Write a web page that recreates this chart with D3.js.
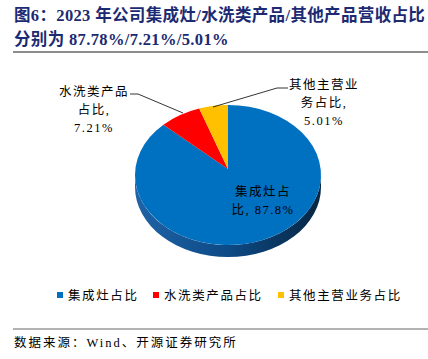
<!DOCTYPE html>
<html><head><meta charset="utf-8">
<script src="https://cdn.jsdelivr.net/npm/d3@7/dist/d3.min.js"></script>
<style>body{margin:0;background:#fff;}svg{display:block;}</style>
</head><body>
<script>
const categories = ["集成灶占比", "水洗类产品占比", "其他主营业务占比"];
const values = [87.78, 7.21, 5.01];
const sliceLabels = [["集成灶占", "比, 87.8%"], ["水洗类产品", "占比,", "7.21%"], ["其他主营业", "务占比,", "5.01%"]];
const colors = ["#0070C0", "#FF0000", "#FFC000"];
const titleLines = ["图6：2023 年公司集成灶/水洗类产品/其他产品营收占比", "分别为 87.78%/7.21%/5.01%"];
const sourceText = "数据来源：Wind、开源证券研究所";

const W = 428, H = 359;
const svg = d3.select("body").append("svg").attr("width", W).attr("height", H);
const serif = "'Liberation Serif','Times New Roman','Noto Sans CJK SC',serif";

// title
svg.append("g").selectAll("text").data(titleLines).join("text")
  .attr("x", 14).attr("y", (d, i) => 21 + i * 24)
  .attr("font-family", serif).attr("font-weight", "bold").attr("font-size", 16.5)
  .attr("letter-spacing", 0.35)
  .attr("fill", "#1b2a72").text(d => d);
svg.append("line").attr("x1", 13).attr("x2", 428).attr("y1", 52).attr("y2", 52)
  .attr("stroke", "#8c8c8c").attr("stroke-width", 2);

// pie geometry
const cx = 228, cy = 175, rx = 93, ry = 70, depth = 12, apexY = 169;
const pt = (a, dy = 0) => [cx + rx * Math.sin(a), cy - ry * Math.cos(a) + dy];
const pie = d3.pie().sort(null).value(d => d)(values);

const defs = svg.append("defs");
const grad = defs.append("linearGradient").attr("id", "side").attr("x1", "0").attr("x2", "1").attr("y1", "0").attr("y2", "0");
grad.append("stop").attr("offset", "0").attr("stop-color", "#1f63a6");
grad.append("stop").attr("offset", "0.5").attr("stop-color", "#0d4a86");
grad.append("stop").attr("offset", "1").attr("stop-color", "#072642");

// side (front half, belongs to first slice)
const a0 = Math.PI / 2, a1 = Math.PI * 3 / 2;
const p0 = pt(a0), p1 = pt(a1), q0 = pt(a0, depth), q1 = pt(a1, depth);
svg.append("path")
  .attr("d", `M${p0}A${rx},${ry} 0 0 1 ${p1}L${q1}A${rx},${ry} 0 0 0 ${q0}Z`)
  .attr("fill", "url(#side)");

// top faces
svg.append("g").selectAll("path").data(pie).join("path")
  .attr("d", d => {
    const s = pt(d.startAngle), e = pt(d.endAngle);
    const large = (d.endAngle - d.startAngle) > Math.PI ? 1 : 0;
    return `M${cx},${apexY}L${s}A${rx},${ry} 0 ${large} 1 ${e}Z`;
  })
  .attr("fill", (d, i) => colors[i]);

// leader lines
const leaders = [null, [[130, 94], [138, 94], [183, 113]], [[288, 88], [277, 88], [213, 107]]];
svg.append("g").selectAll("path").data(leaders.filter(d => d)).join("path")
  .attr("d", d => d3.line()(d)).attr("fill", "none").attr("stroke", "#000").attr("stroke-width", 0.8);

// slice labels
const labelPos = [[263, 196], [94, 96], [324, 89]];
sliceLabels.forEach((lines, i) => {
  svg.append("g").selectAll("text").data(lines).join("text")
    .attr("x", labelPos[i][0]).attr("y", (d, j) => labelPos[i][1] + j * 18)
    .attr("text-anchor", "middle").attr("font-family", serif).attr("font-size", 12.5)
    .attr("letter-spacing", 1.5)
    .attr("fill", "#000").text(d => d);
});

// legend
const legendX = [57, 153, 278];
const lg = svg.append("g").selectAll("g").data(categories).join("g")
  .attr("transform", (d, i) => `translate(${legendX[i]},292)`);
lg.append("rect").attr("width", 6).attr("height", 6).attr("fill", (d, i) => colors[i]);
lg.append("text").attr("x", 11).attr("y", 8).attr("font-family", serif).attr("font-size", 12.5)
  .attr("letter-spacing", 1.6)
  .attr("fill", "#000").text(d => d);

// source
svg.append("line").attr("x1", 13).attr("x2", 428).attr("y1", 329).attr("y2", 329)
  .attr("stroke", "#666").attr("stroke-width", 1);
svg.append("text").attr("x", 14).attr("y", 347).attr("font-family", serif).attr("font-size", 12.5)
  .attr("letter-spacing", 2)
  .attr("fill", "#000").text(sourceText);
</script>
</body></html>
